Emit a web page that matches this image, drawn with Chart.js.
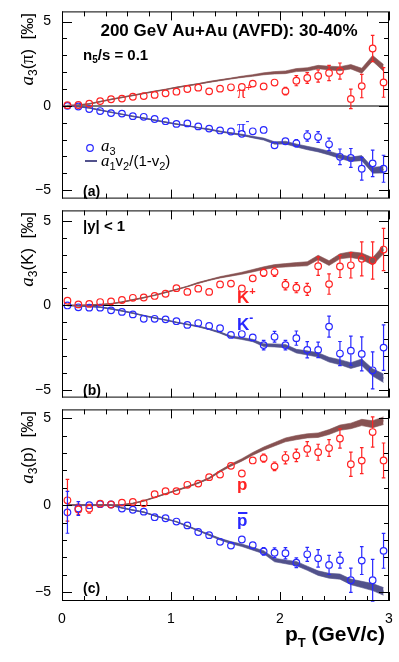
<!DOCTYPE html>
<html>
<head>
<meta charset="utf-8">
<script src="https://cdn.jsdelivr.net/npm/chart.js@4"></script>
<style>
  body { margin: 0; background: #fff; width: 399px; height: 662px; position: relative; overflow: hidden; }
  canvas { position: absolute; left: 0; }
</style>
</head>
<body>
<canvas id="panelA" width="399" height="210" style="top:0px"></canvas>
<canvas id="panelB" width="399" height="210" style="top:199px"></canvas>
<canvas id="panelC" width="399" height="264" style="top:398px"></canvas>
<script>
// pT bin centres (GeV/c)
const pt = [0.05, 0.15, 0.25, 0.35, 0.45, 0.55, 0.65, 0.75, 0.85, 0.95,
            1.05, 1.15, 1.25, 1.35, 1.45, 1.55, 1.65, 1.75, 1.85, 1.95,
            2.05, 2.15, 2.25, 2.35, 2.45, 2.55, 2.65, 2.75, 2.85, 2.95];

// (a) pions
const piPlus = [0.04, 0.05, 0.13, 0.28, 0.39, 0.43, 0.54, 0.58, 0.65, 0.74,
                0.84, 1.0, 1.08, 0.86, 1.02, 1.1, 1.12, 1.32, 1.15, 1.38,
                0.87, 1.49, 1.65, 1.77, 1.95, 2.06, 0.41, 1.17, 3.4, 1.39];
const piPlusErr = [0, 0, 0, 0, 0, 0, 0, 0, 0, 0,
                   0, 0, 0, 0, 0, 0, 0, 0.05, 0.08, 0.12,
                   0.22, 0.3, 0.32, 0.36, 0.45, 0.48, 0.58, 0.69, 0.78, 0.88];
const piMinus = [0.0, -0.04, -0.19, -0.31, -0.43, -0.46, -0.61, -0.65, -0.78, -0.91,
                 -1.07, -1.04, -1.22, -1.35, -1.46, -1.52, -1.66, -1.51, -1.43, -2.34,
                 -2.1, -2.22, -1.79, -1.85, -2.28, -3.02, -3.09, -3.73, -3.41, -3.73];
const piMinusErr = [0, 0, 0, 0, 0, 0, 0, 0, 0, 0,
                    0, 0, 0, 0, 0, 0, 0, 0, 0.06, 0.12,
                    0.18, 0.22, 0.3, 0.32, 0.37, 0.46, 0.56, 0.67, 0.79, 0.8];
const piPlusModel = [0.02, 0.05, 0.12, 0.25, 0.38, 0.5, 0.62, 0.74, 0.86, 0.97,
                     1.09, 1.2, 1.3, 1.42, 1.52, 1.62, 1.72, 1.8, 1.9, 1.96,
                     1.99, 2.12, 2.16, 2.3, 2.24, 2.2, 2.32, 2.08, 2.82, 2.25];
const piMinusModel = [0.0, -0.05, -0.12, -0.25, -0.38, -0.5, -0.62, -0.73, -0.85, -0.97,
                      -1.08, -1.18, -1.3, -1.4, -1.52, -1.62, -1.72, -1.85, -1.97, -2.2,
                      -2.18, -2.35, -2.5, -2.63, -2.8, -3.0, -3.17, -3.1, -3.82, -3.78];
const piBand = [0.02, 0.02, 0.02, 0.02, 0.02, 0.02, 0.02, 0.02, 0.02, 0.02,
                0.02, 0.02, 0.02, 0.03, 0.03, 0.03, 0.04, 0.05, 0.06, 0.07,
                0.08, 0.09, 0.1, 0.1, 0.11, 0.12, 0.13, 0.15, 0.17, 0.2];

// (b) kaons
const kPlus = [0.28, 0.06, 0.09, 0.2, 0.24, 0.32, 0.45, 0.47, 0.56, 0.69,
               1.02, 0.8, 0.99, 0.8, 1.24, 1.29, 1.0, 1.6, 1.93, 1.97,
               1.22, 1.05, 0.95, 2.32, 1.26, 2.3, 2.37, 2.75, 2.65, 3.3];
const kPlusErr = [0.2, 0, 0, 0, 0, 0, 0, 0, 0, 0,
                  0, 0, 0, 0, 0, 0, 0, 0.15, 0.22, 0.25,
                  0.3, 0.3, 0.35, 0.55, 0.6, 0.65, 0.75, 1.0, 1.1, 1.25];
const kMinus = [0.0, -0.11, -0.13, -0.13, -0.29, -0.38, -0.53, -0.79, -0.79, -0.82,
                -0.93, -1.15, -1.04, -1.21, -1.34, -1.74, -1.69, -1.89, -2.34, -1.85,
                -2.34, -1.93, -2.62, -2.62, -1.25, -2.84, -2.67, -2.86, -3.83, -2.49];
const kMinusErr = [0.2, 0, 0, 0, 0, 0, 0, 0, 0, 0,
                   0, 0, 0, 0, 0, 0, 0, 0.18, 0.28, 0.32,
                   0.28, 0.42, 0.48, 0.46, 0.62, 0.71, 0.86, 1.0, 1.09, 1.34];
const kPlusModel = [0.0, 0.0, 0.02, 0.05, 0.1, 0.2, 0.33, 0.46, 0.6, 0.77,
                    0.94, 1.12, 1.33, 1.5, 1.66, 1.78, 1.9, 2.05, 2.2, 2.32,
                    2.37, 2.42, 2.46, 2.83, 2.5, 2.9, 3.0, 2.9, 2.6, 3.3];
const kMinusModel = [0.0, -0.02, -0.05, -0.1, -0.2, -0.32, -0.45, -0.6, -0.73, -0.86,
                     -1.0, -1.12, -1.24, -1.4, -1.6, -1.85, -1.95, -2.07, -2.34, -2.36,
                     -2.4, -2.7, -2.8, -2.92, -3.2, -3.35, -3.55, -3.35, -3.95, -4.3];
const kBand = [0.02, 0.02, 0.02, 0.02, 0.02, 0.02, 0.02, 0.02, 0.02, 0.02,
               0.02, 0.02, 0.03, 0.03, 0.04, 0.05, 0.06, 0.07, 0.08, 0.09,
               0.1, 0.11, 0.12, 0.13, 0.14, 0.15, 0.17, 0.19, 0.22, 0.25];

// (c) protons
const pPlus = [0.28, -0.24, -0.2, 0.09, 0.04, 0.15, 0.19, 0.11, 0.63, 0.8,
               0.81, 1.17, 1.24, 1.61, 1.76, 2.26, 1.82, 2.57, 2.7, 2.23,
               2.72, 2.86, 3.23, 3.04, 3.28, 3.83, 2.35, 2.56, 4.2, 2.57];
const pPlusErr = [1.2, 0.3, 0.25, 0.15, 0, 0, 0, 0, 0, 0,
                  0, 0, 0, 0, 0, 0, 0, 0.15, 0.23, 0.25,
                  0.35, 0.36, 0.42, 0.46, 0.48, 0.55, 0.7, 0.75, 0.87, 1.0];
const pMinus = [-0.41, -0.19, 0.0, 0.06, 0.04, -0.19, -0.26, -0.37, -0.69, -0.75,
                -0.94, -1.16, -1.54, -1.72, -2.1, -2.32, -1.97, -2.3, -2.65, -2.73,
                -2.76, -3.3, -2.82, -3.05, -3.43, -3.16, -4.31, -3.18, -4.31, -2.62];
const pMinusErr = [1.2, 0.4, 0.2, 0.15, 0, 0, 0, 0, 0, 0,
                   0, 0, 0, 0, 0, 0, 0, 0.15, 0.22, 0.28,
                   0.32, 0.28, 0.4, 0.5, 0.55, 0.45, 0.7, 0.8, 1.2, 1.0];
const pPlusModel = [0.0, 0.0, 0.0, 0.0, 0.0, 0.02, 0.1, 0.25, 0.45, 0.65,
                    0.85, 1.05, 1.28, 1.55, 1.95, 2.3, 2.6, 2.95, 3.25, 3.5,
                    3.75, 3.88, 3.98, 4.02, 4.2, 4.45, 4.55, 4.75, 4.65, 4.85];
const pMinusModel = [0.0, 0.0, 0.0, 0.0, 0.0, -0.15, -0.28, -0.4, -0.6, -0.78,
                     -0.95, -1.2, -1.45, -1.7, -1.95, -2.15, -2.3, -2.5, -2.7, -3.15,
                     -3.25, -3.35, -3.62, -3.9, -4.05, -4.1, -4.4, -4.55, -4.7, -4.95];
const pBand = [0.02, 0.02, 0.02, 0.02, 0.02, 0.02, 0.02, 0.02, 0.02, 0.02,
               0.02, 0.03, 0.03, 0.04, 0.05, 0.06, 0.07, 0.08, 0.09, 0.1,
               0.11, 0.12, 0.12, 0.13, 0.14, 0.15, 0.16, 0.18, 0.2, 0.22];

const xTicks = [0, 1, 2, 3];
const yTicks = [-5, 0, 5];

const RED = "rgb(255, 35, 35)";
const BLUE = "rgb(40, 40, 255)";
const RED_BAND = "rgb(135, 82, 82)";
const BLUE_BAND = "rgb(82, 82, 140)";
const SANS = "'Liberation Sans', Arial, sans-serif";
const SERIF = "'Liberation Serif', 'Times New Roman', serif";

function pts(vals) {
  return vals.map((v, i) => ({ x: pt[i], y: v }));
}

function pointSet(vals, errs, color) {
  return {
    data: pts(vals), errors: errs, showLine: false, order: 0,
    pointStyle: "circle", pointRadius: 3.3, pointBorderWidth: 1.2,
    pointBorderColor: color, pointBackgroundColor: "rgba(0,0,0,0)", borderColor: color,
  };
}

function bandSets(center, half, color) {
  const lo = center.map((v, i) => v - half[i]);
  const hi = center.map((v, i) => v + half[i]);
  const base = { showLine: true, pointRadius: 0, tension: 0, borderColor: color };
  return [
    { ...base, data: pts(lo), borderWidth: 0.6, fill: false, order: 3 },
    { ...base, data: pts(hi), borderWidth: 0.6, backgroundColor: color, fill: "-1", order: 3 },
    { ...base, data: pts(center), borderWidth: 1.2, fill: false, order: 2 },
  ];
}

// draws a run of text pieces (for sub/superscripts)
function drawRich(ctx, x, y, pieces, align) {
  let w = 0;
  pieces.forEach(p => { ctx.font = p.font; w += ctx.measureText(p.t).width; });
  let cx = align === "right" ? x - w : align === "center" ? x - w / 2 : x;
  pieces.forEach(p => {
    ctx.font = p.font;
    ctx.fillStyle = p.color || "#000";
    ctx.textBaseline = "alphabetic";
    ctx.textAlign = "left";
    const pw = ctx.measureText(p.t).width;
    ctx.fillText(p.t, cx, y + (p.dy || 0));
    if (p.bar) {
      ctx.fillRect(cx + 1, y + p.bar, pw - 1, 2);
    }
    cx += pw;
  });
}

const decor = {
  id: "decor",
  beforeDatasetsDraw(chart, args, o) {
    const { ctx, chartArea: a, scales: { y } } = chart;
    ctx.save();
    ctx.strokeStyle = o.zeroColor;
    ctx.lineWidth = o.zeroWidth;
    const y0 = Math.round(y.getPixelForValue(0)) + (o.zeroWidth === 1 ? 0.5 : 0);
    ctx.beginPath();
    ctx.moveTo(a.left, y0);
    ctx.lineTo(a.right, y0);
    ctx.stroke();
    ctx.restore();
  },
  afterDatasetsDraw(chart, args, o) {
    const { ctx, chartArea: a, scales: { x, y } } = chart;
    ctx.save();
    // error bars, kept outside the open markers
    chart.data.datasets.forEach(ds => {
      if (!ds.errors) return;
      ctx.strokeStyle = ds.pointBorderColor;
      ctx.lineWidth = 1.2;
      ds.data.forEach((d, i) => {
        const e = ds.errors[i];
        if (!e) return;
        const px = x.getPixelForValue(d.x);
        const py = y.getPixelForValue(d.y);
        const top = y.getPixelForValue(d.y + e);
        const bot = y.getPixelForValue(d.y - e);
        ctx.beginPath();
        if (top < py - 3.5) { ctx.moveTo(px, py - 3.5); ctx.lineTo(px, top); ctx.moveTo(px - 1.8, top); ctx.lineTo(px + 1.8, top); }
        if (bot > py + 3.5) { ctx.moveTo(px, py + 3.5); ctx.lineTo(px, bot); ctx.moveTo(px - 1.8, bot); ctx.lineTo(px + 1.8, bot); }
        ctx.stroke();
      });
    });

    // frame and inward ticks
    ctx.strokeStyle = "#000";
    ctx.lineWidth = 1;
    ctx.strokeRect(a.left + 0.5, a.top + 0.5, a.right - a.left - 1, a.bottom - a.top - 1);
    ctx.beginPath();
    for (let v = 0; v <= 3.001; v += 0.2) {
      const px = Math.round(x.getPixelForValue(v)) + 0.5;
      const len = Math.abs(v - Math.round(v)) < 0.01 ? 9 : 5;
      ctx.moveTo(px, a.bottom); ctx.lineTo(px, a.bottom - len);
      ctx.moveTo(px, a.top); ctx.lineTo(px, a.top + len);
    }
    for (let v = -5; v <= 5; v += 1) {
      const py = Math.round(y.getPixelForValue(v)) + 0.5;
      const len = v % 5 === 0 ? 10 : 5;
      ctx.moveTo(a.left, py); ctx.lineTo(a.left + len, py);
      ctx.moveTo(a.right, py); ctx.lineTo(a.right - len, py);
    }
    ctx.stroke();

    // annotations (page coordinates)
    (o.texts || []).forEach(t => {
      if (t.rot) {
        ctx.save();
        ctx.translate(t.x, t.y - o.offset);
        ctx.rotate(-Math.PI / 2);
        drawRich(ctx, 0, 0, t.pieces, t.align);
        ctx.restore();
      } else {
        drawRich(ctx, t.x, t.y - o.offset, t.pieces, t.align);
      }
    });
    (o.shapes || []).forEach(s => s(ctx, o.offset));
    ctx.restore();
  },
};

function yTitle(name, top) {
  return {
    x: 33, y: top + 8, rot: true, align: "right",
    pieces: [
      { t: "a", font: `italic 19px ${SERIF}` },
      { t: "3", font: `12px ${SANS}`, dy: 4 },
      { t: "(", font: `17px ${SANS}` },
      { t: name, font: name === "\u03c0" ? `18px ${SERIF}` : `17px ${SANS}` },
      { t: ")  [\u2030]", font: `17px ${SANS}` },
    ],
  };
}

function makePanel(id, offset, yMin, yMax, pad, showX, datasets, texts, shapes, zero) {
  return new Chart(document.getElementById(id), {
    type: "scatter",
    data: { datasets: datasets },
    options: {
      responsive: false,
      animation: false,
      devicePixelRatio: 1,
      layout: { padding: { top: pad[0], bottom: pad[1], left: 0, right: 10 } },
      plugins: {
        legend: { display: false },
        tooltip: { enabled: false },
        decor: { offset: offset, texts: texts, shapes: shapes, zeroColor: zero[0], zeroWidth: zero[1] },
      },
      scales: {
        x: {
          type: "linear", min: 0, max: 3, display: showX,
          grid: { display: false }, border: { display: false },
          afterBuildTicks: s => { s.ticks = xTicks.map(v => ({ value: v })); },
          afterFit: s => { s.height = showX ? 22 : 0; },
          ticks: { color: "#000", padding: 2, maxRotation: 0, font: { family: SANS, size: 14 } },
        },
        y: {
          type: "linear", min: yMin, max: yMax,
          grid: { display: false }, border: { display: false },
          afterBuildTicks: s => { s.ticks = yTicks.map(v => ({ value: v })); },
          afterFit: s => { s.width = 62; },
          ticks: {
            color: "#000", padding: 3, font: { family: SANS, size: 14 },
            callback: v => (v < 0 ? "\u2212" + Math.abs(v) : String(v)),
          },
        },
      },
    },
    plugins: [decor],
  });
}

const bold = s => `bold ${s}px ${SANS}`;

// ---- panel (a)
makePanel("panelA", 0, -5.5, 5.6, [5, 5], false,
  [pointSet(piPlus, piPlusErr, RED), pointSet(piMinus, piMinusErr, BLUE),
   ...bandSets(piPlusModel, piBand, RED_BAND), ...bandSets(piMinusModel, piBand, BLUE_BAND)],
  [
    yTitle("\u03c0", 5),
    { x: 229, y: 36, align: "center", pieces: [{ t: "200 GeV Au+Au (AVFD): 30-40%", font: bold(17) }] },
    { x: 83, y: 60, pieces: [{ t: "n", font: bold(15) }, { t: "5", font: bold(10), dy: 3 }, { t: "/s = 0.1", font: bold(15) }] },
    { x: 237, y: 98, pieces: [{ t: "\u03c0", font: `17px ${SERIF}`, color: RED }, { t: "+", font: `11px ${SANS}`, color: RED, dy: -7 }] },
    { x: 237, y: 132, pieces: [{ t: "\u03c0", font: `17px ${SERIF}`, color: BLUE }, { t: "-", font: `12px ${SANS}`, color: BLUE, dy: -7 }] },
    { x: 101, y: 151, pieces: [{ t: "a", font: `italic 17px ${SERIF}` }, { t: "3", font: `11px ${SANS}`, dy: 4 }] },
    { x: 101, y: 166, pieces: [
      { t: "a", font: `italic 17px ${SERIF}` }, { t: "1", font: `11px ${SANS}`, dy: 4 },
      { t: "v", font: `15px ${SANS}` }, { t: "2", font: `11px ${SANS}`, dy: 4 },
      { t: "/(1-v", font: `15px ${SANS}` }, { t: "2", font: `11px ${SANS}`, dy: 4 },
      { t: ")", font: `15px ${SANS}` }] },
    { x: 83, y: 196, pieces: [{ t: "(a)", font: bold(14) }] },
  ],
  [
    (ctx, off) => {
      ctx.strokeStyle = BLUE; ctx.lineWidth = 1.2;
      ctx.beginPath(); ctx.arc(90, 148 - off, 3.3, 0, Math.PI * 2); ctx.stroke();
      ctx.strokeStyle = BLUE_BAND; ctx.lineWidth = 2;
      ctx.beginPath(); ctx.moveTo(85, 161 - off); ctx.lineTo(97, 161 - off); ctx.stroke();
    },
  ],
  ["rgb(120,120,120)", 2]);

// ---- panel (b)
makePanel("panelB", 199, -5.44, 5.61, [5, 6], false,
  [pointSet(kPlus, kPlusErr, RED), pointSet(kMinus, kMinusErr, BLUE),
   ...bandSets(kPlusModel, kBand, RED_BAND), ...bandSets(kMinusModel, kBand, BLUE_BAND)],
  [
    yTitle("K", 204),
    { x: 83, y: 231, pieces: [{ t: "|y| < 1", font: bold(15) }] },
    { x: 237, y: 303, pieces: [{ t: "K", font: bold(17), color: RED }, { t: "+", font: bold(11), color: RED, dy: -8 }] },
    { x: 237, y: 330, pieces: [{ t: "K", font: bold(17), color: BLUE }, { t: "-", font: bold(12), color: BLUE, dy: -8 }] },
    { x: 83, y: 395, pieces: [{ t: "(b)", font: bold(14) }] },
  ],
  [],
  ["#000", 1]);

// ---- panel (c)
makePanel("panelC", 398, -5.5, 5.5, [5, 39], true,
  [pointSet(pPlus, pPlusErr, RED), pointSet(pMinus, pMinusErr, BLUE),
   ...bandSets(pPlusModel, pBand, RED_BAND), ...bandSets(pMinusModel, pBand, BLUE_BAND)],
  [
    yTitle("p", 403),
    { x: 237, y: 490, pieces: [{ t: "p", font: bold(17), color: RED }] },
    { x: 237, y: 526, pieces: [{ t: "p", font: bold(17), color: BLUE, bar: -14 }] },
    { x: 83, y: 593, pieces: [{ t: "(c)", font: bold(14) }] },
    { x: 385, y: 641, align: "right", pieces: [
      { t: "p", font: bold(21) }, { t: "T", font: bold(13), dy: 6 }, { t: " (GeV/c)", font: bold(21) }] },
  ],
  [],
  ["#000", 1]);
</script>
</body>
</html>
